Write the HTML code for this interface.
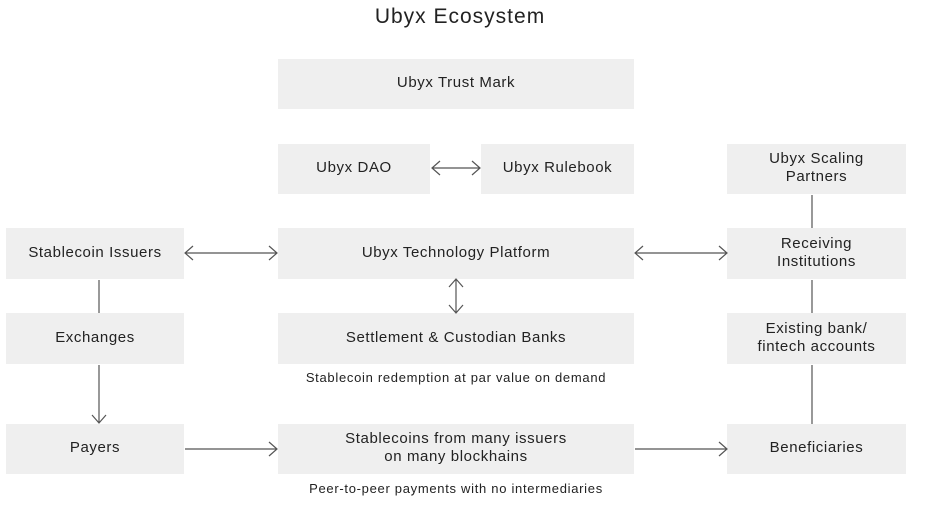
<!DOCTYPE html>
<html><head><style>
body{margin:0;width:940px;height:511px;background:#fff;font-family:"Liberation Sans",sans-serif;color:#222;position:relative;overflow:hidden}
.b{position:absolute;background:#efefef;display:flex;align-items:center;justify-content:center;text-align:center;font-size:15px;line-height:18px;letter-spacing:0.6px;box-sizing:border-box;padding-bottom:2px}
.t{position:absolute;font-size:13px;text-align:center;letter-spacing:0.7px}
svg{position:absolute;left:0;top:0}
</style></head><body>
<div class="t" style="left:0;width:920px;top:5px;font-size:21px;letter-spacing:1px">Ubyx Ecosystem</div>
<div class="b" style="left:278px;top:59px;width:356px;height:50px">Ubyx Trust Mark</div>
<div class="b" style="left:278px;top:144px;width:152px;height:50px">Ubyx DAO</div>
<div class="b" style="left:481px;top:144px;width:153px;height:50px">Ubyx Rulebook</div>
<div class="b" style="left:727px;top:144px;width:179px;height:50px">Ubyx Scaling<br>Partners</div>
<div class="b" style="left:6px;top:228px;width:178px;height:51px">Stablecoin Issuers</div>
<div class="b" style="left:278px;top:228px;width:356px;height:51px">Ubyx Technology Platform</div>
<div class="b" style="left:727px;top:228px;width:179px;height:51px">Receiving<br>Institutions</div>
<div class="b" style="left:6px;top:313px;width:178px;height:51px">Exchanges</div>
<div class="b" style="left:278px;top:313px;width:356px;height:51px">Settlement &amp; Custodian Banks</div>
<div class="b" style="left:727px;top:313px;width:179px;height:51px">Existing bank/<br>fintech accounts</div>
<div class="t" style="left:278px;width:356px;top:370px">Stablecoin redemption at par value on demand</div>
<div class="b" style="left:6px;top:424px;width:178px;height:50px">Payers</div>
<div class="b" style="left:278px;top:424px;width:356px;height:50px">Stablecoins from many issuers<br>on many blockhains</div>
<div class="b" style="left:727px;top:424px;width:179px;height:50px">Beneficiaries</div>
<div class="t" style="left:278px;width:356px;top:481px">Peer-to-peer payments with no intermediaries</div>
<svg width="940" height="511" fill="none" stroke="#555" stroke-width="1.2">
<path d="M432 168H480M440 161L432 168L440 175M472 161L480 168L472 175"/>
<path d="M185 253H277M193 246L185 253L193 260M269 246L277 253L269 260"/>
<path d="M635 253H727M643 246L635 253L643 260M719 246L727 253L719 260"/>
<path d="M456 279V313M449 287L456 279L463 287M449 305L456 313L463 305"/>
<path d="M99 280V313"/>
<path d="M99 365V423M92 415L99 423L106 415"/>
<path d="M185 449H277M269 442L277 449L269 456"/>
<path d="M635 449H727M719 442L727 449L719 456"/>
<path d="M812 195V228M812 280V313M812 365V424"/>
</svg>
</body></html>
